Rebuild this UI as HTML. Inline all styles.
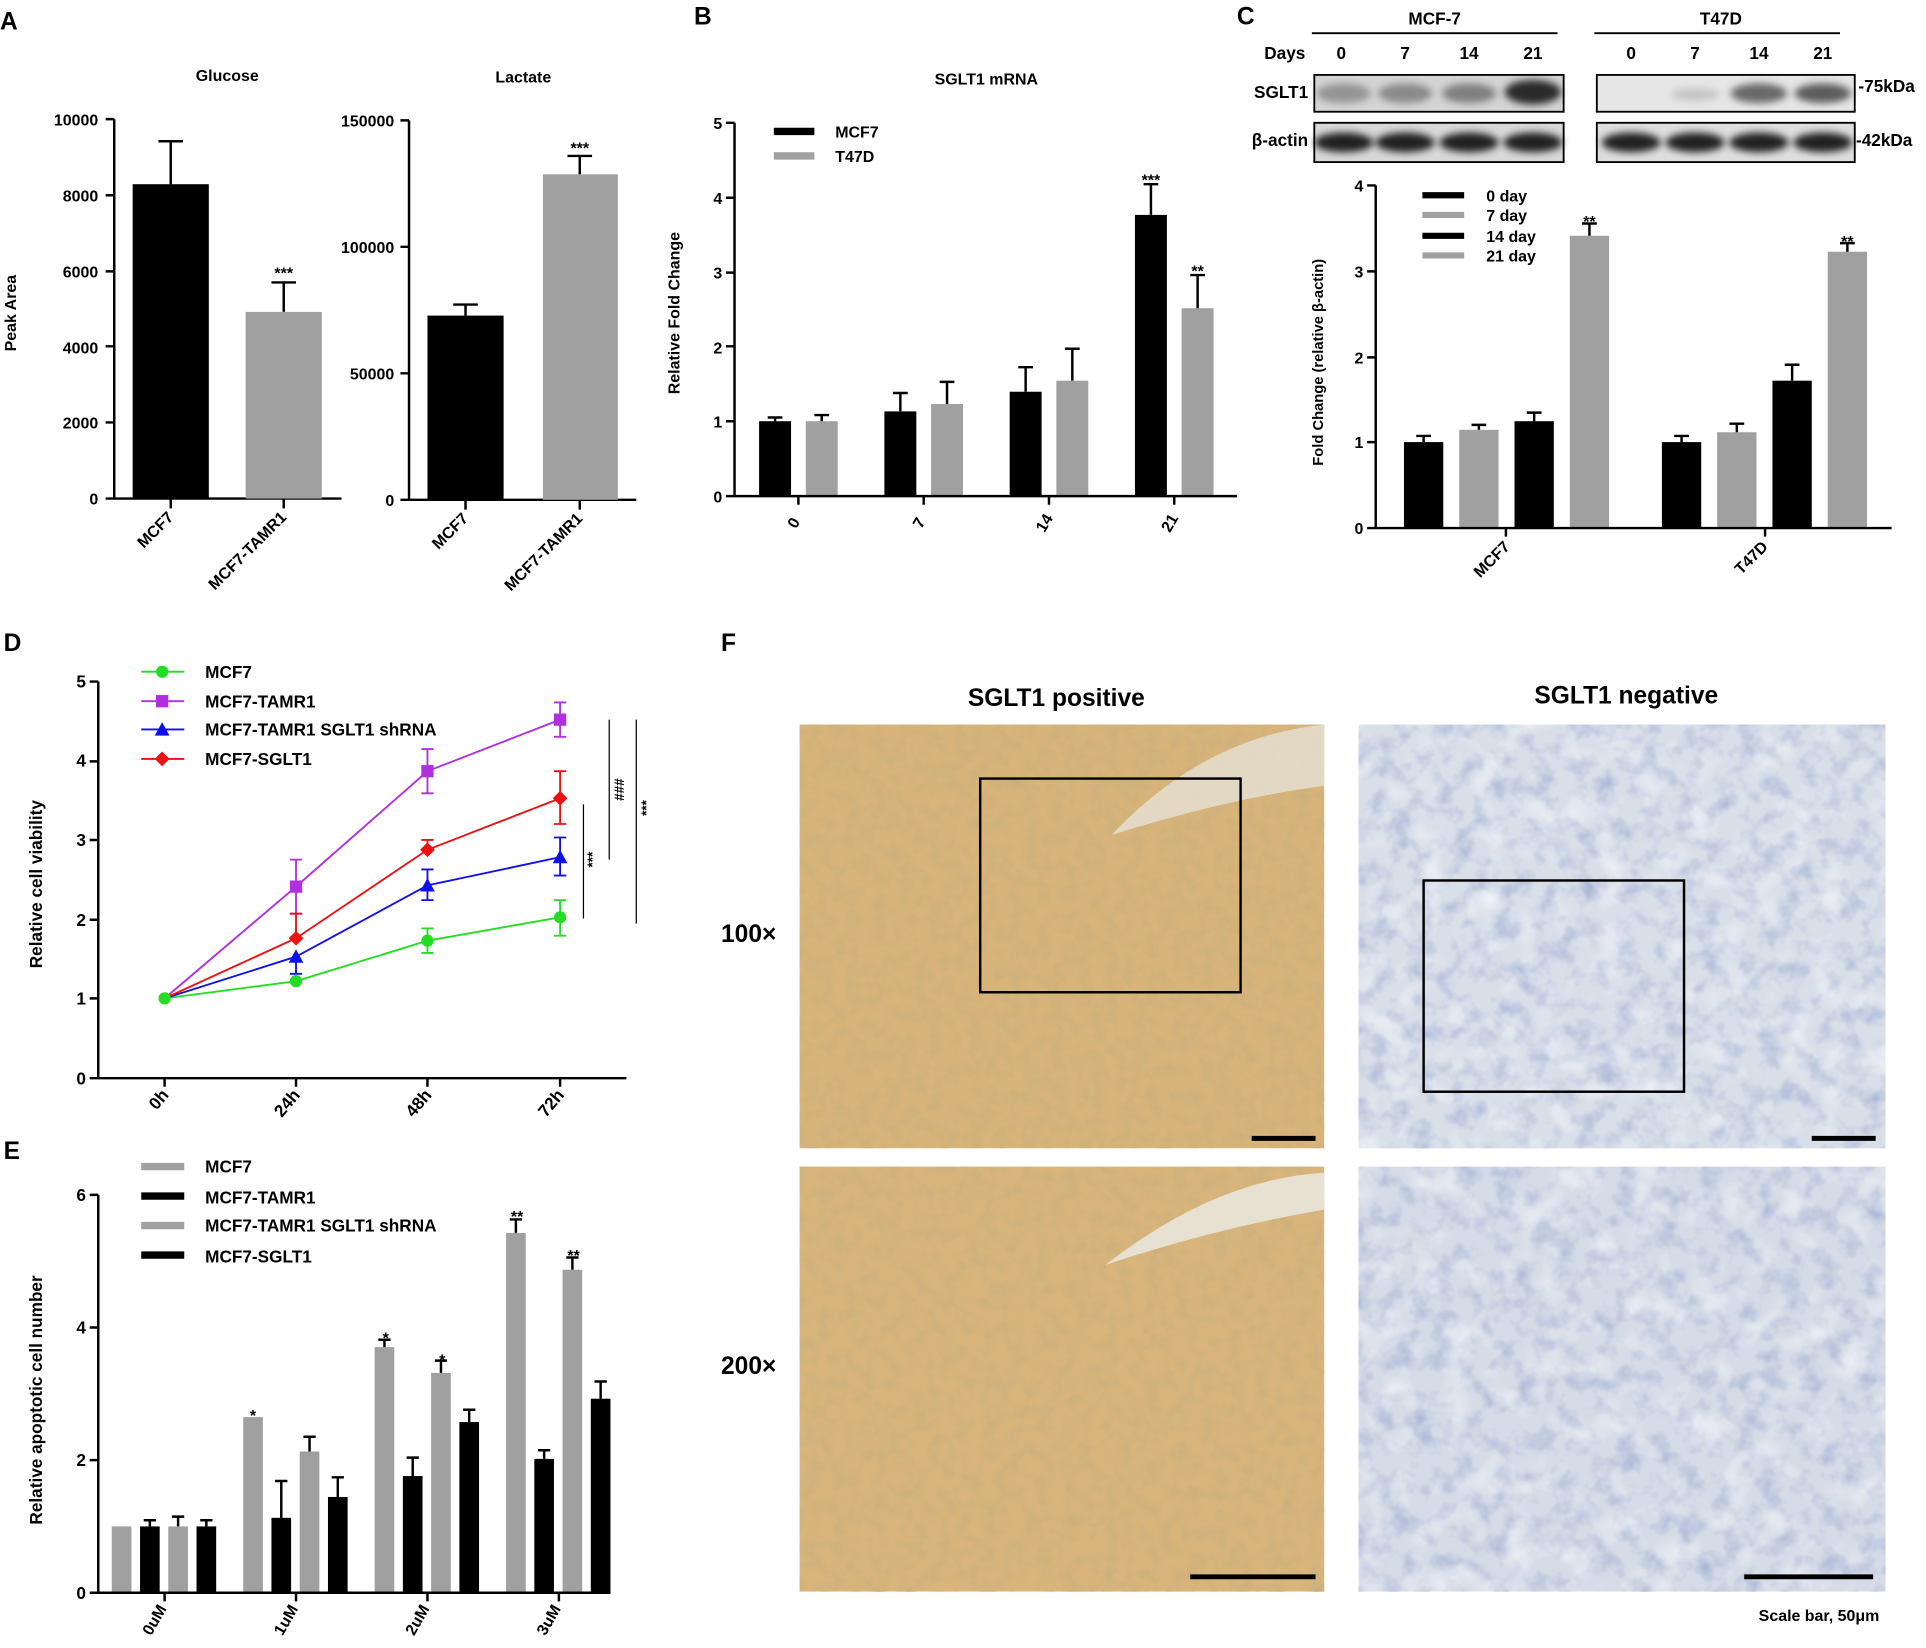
<!DOCTYPE html>
<html><head><meta charset="utf-8"><style>html,body{margin:0;padding:0;background:#fff}svg{display:block}</style></head><body>
<svg width="1926" height="1648" viewBox="0 0 1568 1342" preserveAspectRatio="none" xmlns="http://www.w3.org/2000/svg" font-family="Liberation Sans, DejaVu Sans, sans-serif" font-weight="bold">
<defs>
<filter id="noiseT" x="0" y="0" width="100%" height="100%"><feTurbulence type="fractalNoise" baseFrequency="0.09" numOctaves="3" seed="3"/><feColorMatrix type="matrix" values="0 0 0 0 0.55  0 0 0 0 0.42  0 0 0 0 0.2  1.2 0 0 0 -0.45"/></filter>
<filter id="noiseB" x="0" y="0" width="100%" height="100%"><feTurbulence type="fractalNoise" baseFrequency="0.06" numOctaves="3" seed="7"/><feColorMatrix type="matrix" values="0 0 0 0 0.35  0 0 0 0 0.42  0 0 0 0 0.65  1.6 0 0 0 -0.7"/></filter>
<filter id="noiseW" x="0" y="0" width="100%" height="100%"><feTurbulence type="fractalNoise" baseFrequency="0.04" numOctaves="2" seed="11"/><feColorMatrix type="matrix" values="0 0 0 0 0.97  0 0 0 0 0.97  0 0 0 0 0.98  1.5 0 0 0 -0.75"/></filter>
<filter id="blur"><feGaussianBlur stdDeviation="3"/></filter>
</defs>
<g font-size="20"><text x="0" y="24">A</text><text x="565" y="20">B</text><text x="1007" y="20">C</text><text x="3" y="530">D</text><text x="3" y="944">E</text><text x="587" y="530">F</text></g>

<!-- Panel A -->
<g font-size="13" fill="#000">
<text x="185" y="66" text-anchor="middle">Glucose</text>
<text x="426" y="67" text-anchor="middle">Lactate</text>
<text transform="translate(13,255) rotate(-90)" text-anchor="middle">Peak Area</text>
<g text-anchor="end"><text x="80" y="102">10000</text><text x="80" y="164">8000</text><text x="80" y="226">6000</text><text x="80" y="288">4000</text><text x="80" y="349">2000</text><text x="80" y="411">0</text>
<text x="321" y="103">150000</text><text x="321" y="206">100000</text><text x="321" y="309">50000</text><text x="321" y="412">0</text></g>
</g>
<g stroke="#000" stroke-width="2" fill="none">
<path d="M93 97V406H278M86 97H93M86 159H93M86 221H93M86 282H93M86 344H93M86 406H93"/>
<path d="M333 98V407H518M326 98H333M326 201H333M326 304H333M326 407H333"/>
<path d="M139 150V115M129 115H149M231 254V230M221 230H241M379 257V248M369 248H389M472 142V127M462 127H482"/>
<path d="M139 406V414M231 406V414M379 407V415M472 407V415"/>
</g>
<rect x="108" y="150" width="62" height="256" fill="#000"/><rect x="200" y="254" width="62" height="152" fill="#a0a0a0"/>
<rect x="348" y="257" width="62" height="150" fill="#000"/><rect x="442" y="142" width="61" height="265" fill="#a0a0a0"/>
<g font-size="13"><text x="231" y="227" text-anchor="middle">***</text><text x="472" y="125" text-anchor="middle">***</text>
<g text-anchor="end"><text transform="translate(142,422) rotate(-45)">MCF7</text><text transform="translate(234,422) rotate(-45)">MCF7-TAMR1</text><text transform="translate(382,423) rotate(-45)">MCF7</text><text transform="translate(475,423) rotate(-45)">MCF7-TAMR1</text></g></g>

<!-- Panel B -->
<g font-size="13">
<text x="803" y="69" text-anchor="middle">SGLT1 mRNA</text>
<text transform="translate(553,255) rotate(-90)" text-anchor="middle">Relative Fold Change</text>
<g text-anchor="end"><text x="588" y="105">5</text><text x="588" y="166">4</text><text x="588" y="227">3</text><text x="588" y="288">2</text><text x="588" y="348">1</text><text x="588" y="409">0</text></g>
<text x="680" y="112">MCF7</text><text x="680" y="132">T47D</text>
<g text-anchor="middle"><text transform="translate(650,428) rotate(-60)">0</text><text transform="translate(752,428) rotate(-60)">7</text><text transform="translate(854,428) rotate(-60)">14</text><text transform="translate(956,428) rotate(-60)">21</text>
<text x="937" y="151">***</text><text x="975" y="225">**</text></g>
</g>
<path d="M630 107H663" stroke="#000" stroke-width="6"/><path d="M630 127H663" stroke="#a0a0a0" stroke-width="6"/>
<g fill="#000"><rect x="618" y="343" width="26" height="61"/><rect x="720" y="335" width="26" height="69"/><rect x="822" y="319" width="26" height="85"/><rect x="924" y="175" width="26" height="229"/></g>
<g fill="#a0a0a0"><rect x="656" y="343" width="26" height="61"/><rect x="758" y="329" width="26" height="75"/><rect x="860" y="310" width="26" height="94"/><rect x="962" y="251" width="26" height="153"/></g>
<g stroke="#000" stroke-width="2" fill="none">
<path d="M598 100V404H1007M591 100H598M591 161H598M591 222H598M591 282H598M591 343H598M591 404H598"/>
<path d="M650 404V411M752 404V411M854 404V411M956 404V411"/>
<path d="M631 343V340M625 340H637M669 343V338M663 338H675M733 335V320M727 320H739M771 329V311M765 311H777M835 319V299M829 299H841M873 310V284M867 284H879M937 175V150M931 150H943M975 251V224M969 224H981"/>
</g>

<!-- Panel C blot -->
<g font-size="14">
<text x="1168" y="20" text-anchor="middle">MCF-7</text><text x="1401" y="20" text-anchor="middle">T47D</text>
<text x="1046" y="48" text-anchor="middle">Days</text>
<g text-anchor="middle"><text x="1092" y="48">0</text><text x="1144" y="48">7</text><text x="1196" y="48">14</text><text x="1248" y="48">21</text><text x="1328" y="48">0</text><text x="1380" y="48">7</text><text x="1432" y="48">14</text><text x="1484" y="48">21</text></g>
<text x="1065" y="80" text-anchor="end">SGLT1</text><text x="1065" y="119" text-anchor="end">β-actin</text>
<text x="1513" y="75">-75kDa</text><text x="1511" y="119">-42kDa</text>
</g>
<path d="M1068 27H1268M1298 27H1498" stroke="#000" stroke-width="1.5"/>
<g stroke="#000" stroke-width="1.5"><rect x="1070" y="61" width="203" height="30" fill="#d4d4d4"/><rect x="1300" y="61" width="210" height="30" fill="#e6e6e6"/><rect x="1070" y="100" width="203" height="32" fill="#d8d8d8"/><rect x="1300" y="100" width="210" height="32" fill="#dedede"/></g>
<g fill="#000" filter="url(#blur)">
<ellipse cx="1094" cy="76" rx="22" ry="8" opacity="0.3"/><ellipse cx="1144" cy="76" rx="22" ry="8" opacity="0.35"/><ellipse cx="1196" cy="76" rx="22" ry="8" opacity="0.4"/><ellipse cx="1248" cy="75" rx="23" ry="10" opacity="0.8"/>
<ellipse cx="1380" cy="77" rx="20" ry="5" opacity="0.15"/><ellipse cx="1432" cy="76" rx="23" ry="8" opacity="0.55"/><ellipse cx="1484" cy="76" rx="23" ry="8" opacity="0.6"/>
<ellipse cx="1094" cy="116" rx="24" ry="8" opacity="0.85"/><ellipse cx="1144" cy="116" rx="24" ry="8" opacity="0.85"/><ellipse cx="1196" cy="116" rx="24" ry="8" opacity="0.85"/><ellipse cx="1248" cy="116" rx="24" ry="8" opacity="0.85"/>
<ellipse cx="1328" cy="116" rx="24" ry="8" opacity="0.85"/><ellipse cx="1380" cy="116" rx="24" ry="8" opacity="0.85"/><ellipse cx="1432" cy="116" rx="24" ry="8" opacity="0.85"/><ellipse cx="1484" cy="116" rx="24" ry="8" opacity="0.85"/>
</g>
<!-- Panel C chart -->
<g font-size="13">
<text transform="translate(1077,295) rotate(-90)" text-anchor="middle" font-size="12">Fold Change (relative β-actin)</text>
<g text-anchor="end"><text x="1110" y="156">4</text><text x="1110" y="226">3</text><text x="1110" y="296">2</text><text x="1110" y="365">1</text><text x="1110" y="435">0</text></g>
<text x="1210" y="164">0 day</text><text x="1210" y="180">7 day</text><text x="1210" y="197">14 day</text><text x="1210" y="213">21 day</text>
<text x="1294" y="185" text-anchor="middle">**</text><text x="1504" y="201" text-anchor="middle">**</text>
<g text-anchor="end"><text transform="translate(1230,446) rotate(-45)">MCF7</text><text transform="translate(1440,446) rotate(-45)">T47D</text></g>
</g>
<path d="M1158 159H1192M1158 192H1192" stroke="#000" stroke-width="5"/><path d="M1158 175H1192M1158 208H1192" stroke="#a0a0a0" stroke-width="5"/>
<g fill="#000"><rect x="1143" y="360" width="32" height="70"/><rect x="1233" y="343" width="32" height="87"/><rect x="1353" y="360" width="32" height="70"/><rect x="1443" y="310" width="32" height="120"/></g>
<g fill="#a0a0a0"><rect x="1188" y="350" width="32" height="80"/><rect x="1278" y="192" width="32" height="238"/><rect x="1398" y="352" width="32" height="78"/><rect x="1488" y="205" width="32" height="225"/></g>
<g stroke="#000" stroke-width="2" fill="none">
<path d="M1120 151V430H1540M1113 151H1120M1113 221H1120M1113 291H1120M1113 360H1120M1113 430H1120"/>
<path d="M1226 430V437M1437 430V437"/>
<path d="M1159 360V355M1153 355H1165M1204 350V346M1198 346H1210M1249 343V336M1243 336H1255M1294 192V182M1288 182H1300M1369 360V355M1363 355H1375M1414 352V345M1408 345H1420M1459 310V297M1453 297H1465M1504 205V198M1498 198H1510"/>
</g>

<!-- Panel D -->
<g font-size="14">
<text transform="translate(34,720) rotate(-90)" text-anchor="middle">Relative cell viability</text>
<g text-anchor="end"><text x="70" y="560">5</text><text x="70" y="624">4</text><text x="70" y="689">3</text><text x="70" y="754">2</text><text x="70" y="818">1</text><text x="70" y="883">0</text></g>
<text x="167" y="552">MCF7</text><text x="167" y="576">MCF7-TAMR1</text><text x="167" y="599">MCF7-TAMR1 SGLT1 shRNA</text><text x="167" y="623">MCF7-SGLT1</text>
<g text-anchor="end"><text transform="translate(138,892) rotate(-50)">0h</text><text transform="translate(245,892) rotate(-50)">24h</text><text transform="translate(352,892) rotate(-50)">48h</text><text transform="translate(460,892) rotate(-50)">72h</text></g>
<g font-size="11"><text transform="translate(486,700) rotate(-90)" text-anchor="middle">***</text><text transform="translate(508,643) rotate(-90)" text-anchor="middle">###</text><text transform="translate(530,658) rotate(-90)" text-anchor="middle">***</text></g>
</g>
<g stroke="#000" stroke-width="2" fill="none">
<path d="M80 555V878H510M73 555H80M73 620H80M73 684H80M73 749H80M73 813H80M73 878H80"/>
<path d="M134 878V885M241 878V885M348 878V885M456 878V885"/>
<path d="M475 655V748M496 586V700M518 586V752" stroke-width="1"/>
</g>
<g stroke-width="1.5" fill="none">
<path d="M134 813L241 799L348 766L456 747" stroke="#22dd22"/><path d="M348 766V756M343 756H353M348 766V776M343 776H353M456 747V733M451 733H461M456 747V762M451 762H461" stroke="#22dd22"/>
<path d="M134 813L241 722L348 628L456 586" stroke="#b030e0"/><path d="M241 722V700M236 700H246M241 722V744M236 744H246M348 628V610M343 610H353M348 628V646M343 646H353M456 586V572M451 572H461M456 586V600M451 600H461" stroke="#b030e0"/>
<path d="M134 813L241 779L348 721L456 698" stroke="#1010ee"/><path d="M241 779V793M236 793H246M348 721V708M343 708H353M348 721V733M343 733H353M456 698V682M451 682H461M456 698V713M451 713H461" stroke="#1010ee"/>
<path d="M134 813L241 764L348 692L456 650" stroke="#ee1010"/><path d="M241 764V744M236 744H246M348 692V684M343 684H353M456 650V628M451 628H461M456 650V671M451 671H461" stroke="#ee1010"/>
<path d="M115 547H150" stroke="#22dd22"/><path d="M115 571H150" stroke="#b030e0"/><path d="M115 594H150" stroke="#1010ee"/><path d="M115 618H150" stroke="#ee1010"/>
</g>
<g fill="#22dd22"><circle cx="134" cy="813" r="5"/><circle cx="241" cy="799" r="5"/><circle cx="348" cy="766" r="5"/><circle cx="456" cy="747" r="5"/><circle cx="132" cy="547" r="5"/></g>
<g fill="#b030e0"><rect x="236" y="717" width="10" height="10"/><rect x="343" y="623" width="10" height="10"/><rect x="451" y="581" width="10" height="10"/><rect x="127" y="566" width="10" height="10"/></g>
<g fill="#1010ee"><path d="M241 773L247 784H235Z"/><path d="M348 715L354 726H342Z"/><path d="M456 692L462 703H450Z"/><path d="M132 588L138 599H126Z"/></g>
<g fill="#ee1010"><path d="M241 758L247 764L241 770L235 764Z"/><path d="M348 686L354 692L348 698L342 692Z"/><path d="M456 644L462 650L456 656L450 650Z"/><path d="M132 612L138 618L132 624L126 618Z"/></g>

<!-- Panel E -->
<g font-size="14">
<text transform="translate(34,1140) rotate(-90)" text-anchor="middle">Relative apoptotic cell number</text>
<g text-anchor="end"><text x="70" y="978">6</text><text x="70" y="1086">4</text><text x="70" y="1194">2</text><text x="70" y="1302">0</text></g>
<text x="167" y="955">MCF7</text><text x="167" y="980">MCF7-TAMR1</text><text x="167" y="1003">MCF7-TAMR1 SGLT1 shRNA</text><text x="167" y="1028">MCF7-SGLT1</text>
<g text-anchor="end" font-size="13"><text transform="translate(136,1310) rotate(-60)">0uM</text><text transform="translate(243,1310) rotate(-60)">1uM</text><text transform="translate(350,1310) rotate(-60)">2uM</text><text transform="translate(457,1310) rotate(-60)">3uM</text></g>
<g text-anchor="middle" font-size="13"><text x="206" y="1157">*</text><text x="314" y="1094">*</text><text x="360" y="1112">*</text><text x="421" y="995">**</text><text x="467" y="1027">**</text></g>
</g>
<path d="M115 950H150M115 998H150" stroke="#a0a0a0" stroke-width="6"/><path d="M115 974H150M115 1022H150" stroke="#000" stroke-width="6"/>
<g fill="#a0a0a0"><rect x="91" y="1243" width="16" height="54"/><rect x="137" y="1243" width="16" height="54"/><rect x="198" y="1154" width="16" height="143"/><rect x="244" y="1182" width="16" height="115"/><rect x="305" y="1097" width="16" height="200"/><rect x="351" y="1118" width="16" height="179"/><rect x="412" y="1004" width="16" height="293"/><rect x="458" y="1034" width="16" height="263"/></g>
<g fill="#000"><rect x="114" y="1243" width="16" height="54"/><rect x="160" y="1243" width="16" height="54"/><rect x="221" y="1236" width="16" height="61"/><rect x="267" y="1219" width="16" height="78"/><rect x="328" y="1202" width="16" height="95"/><rect x="374" y="1158" width="16" height="139"/><rect x="435" y="1188" width="16" height="109"/><rect x="481" y="1139" width="16" height="158"/></g>
<g stroke="#000" stroke-width="2" fill="none">
<path d="M80 973V1297H497M73 973H80M73 1081H80M73 1189H80M73 1297H80"/>
<path d="M134 1297V1304M241 1297V1304M348 1297V1304M455 1297V1304"/>
<path d="M122 1243V1238M117 1238H127M145 1243V1235M140 1235H150M168 1243V1238M163 1238H173M229 1236V1206M224 1206H234M252 1182V1170M247 1170H257M275 1219V1203M270 1203H280M313 1097V1091M308 1091H318M336 1202V1187M331 1187H341M359 1118V1108M354 1108H364M382 1158V1148M377 1148H387M420 1004V993M415 993H425M443 1188V1181M438 1181H448M466 1034V1024M461 1024H471M489 1139V1125M484 1125H494"/>
</g>

<!-- Panel F -->
<g font-size="20">
<text x="860" y="575" text-anchor="middle">SGLT1 positive</text><text x="1324" y="573" text-anchor="middle">SGLT1 negative</text>
<text x="587" y="767">100×</text><text x="587" y="1119">200×</text>
<text x="1530" y="1320" text-anchor="end" font-size="13">Scale bar, 50μm</text>
</g>
<rect x="651" y="590" width="427" height="345" fill="#d8b47a"/>
<rect x="651" y="590" width="427" height="345" filter="url(#noiseT)"/>
<path d="M905 680Q980 600 1078 590V640Q1000 650 905 680Z" fill="#e4dccb" opacity="0.9"/>
<rect x="1106" y="590" width="429" height="345" fill="#d9dfe9"/>
<rect x="1106" y="590" width="429" height="345" filter="url(#noiseB)"/>
<rect x="1106" y="590" width="429" height="345" filter="url(#noiseW)"/>
<rect x="651" y="950" width="427" height="346" fill="#d9b57c"/>
<rect x="651" y="950" width="427" height="346" filter="url(#noiseT)"/>
<path d="M900 1030Q990 960 1078 955V985Q990 1000 900 1030Z" fill="#e7e1d2"/>
<rect x="1106" y="950" width="429" height="346" fill="#d6dce7"/>
<rect x="1106" y="950" width="429" height="346" filter="url(#noiseB)"/>
<rect x="1106" y="950" width="429" height="346" filter="url(#noiseW)"/>
<g stroke="#000" stroke-width="2" fill="none"><rect x="798" y="634" width="212" height="174"/><rect x="1159" y="717" width="212" height="172"/></g>
<g stroke="#000" stroke-width="4"><path d="M1019 927H1071M1475 927H1527M969 1284H1071M1420 1284H1525"/></g>
</svg>
</body></html>
